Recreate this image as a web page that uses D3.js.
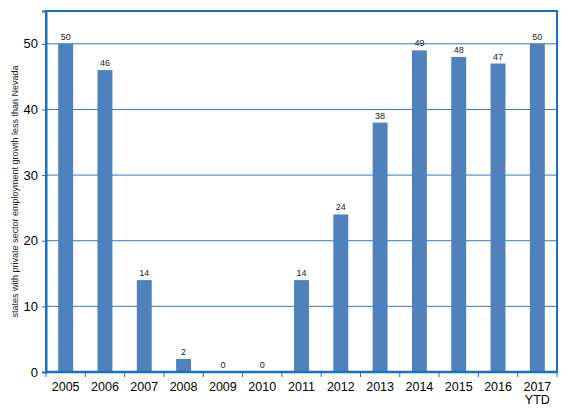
<!DOCTYPE html>
<html>
<head>
<meta charset="utf-8">
<script src="https://cdn.jsdelivr.net/npm/d3@7"></script>
<style>
  body { margin: 0; background: #fff; }
  text { font-family: Arial, "Liberation Sans", sans-serif; }
</style>
</head>
<body>
<div id="chart"></div>
<script>
// data
const years = ['2005', '2006', '2007', '2008', '2009', '2010', '2011', '2012', '2013', '2014', '2015', '2016', '2017\nYTD'];
const statesBelow = [50, 46, 14, 2, 0, 0, 14, 24, 38, 49, 48, 47, 50];
const yTicks = [0, 10, 20, 30, 40, 50];

const width = 568, height = 411;
const margin = { top: 11, right: 11, bottom: 39, left: 46 };

const svg = d3.select('#chart')
  .append('svg')
  .attr('width', width)
  .attr('height', height);

const x = d3.scaleBand()
  .domain(years)
  .range([margin.left, width - margin.right])
  .paddingInner(0.62)
  .paddingOuter(0.31);

const y = d3.scaleLinear()
  .domain([0, 55])
  .range([height - margin.bottom, margin.top]);

// gridlines
svg.append('g')
  .selectAll('line')
  .data(yTicks.filter(d => d > 0))
  .enter()
  .append('line')
  .attr('x1', margin.left)
  .attr('x2', width - margin.right)
  .attr('y1', d => y(d))
  .attr('y2', d => y(d))
  .attr('stroke', '#2a7bc9')
  .attr('stroke-width', 1);

// bars
svg.append('g')
  .selectAll('rect')
  .data(statesBelow)
  .enter()
  .append('rect')
  .attr('x', (d, i) => x(years[i]))
  .attr('y', d => y(d))
  .attr('width', x.bandwidth())
  .attr('height', d => y(0) - y(d))
  .attr('fill', '#4f81bd');

// value labels
svg.append('g')
  .selectAll('text')
  .data(statesBelow)
  .enter()
  .append('text')
  .attr('x', (d, i) => x(years[i]) + x.bandwidth() / 2)
  .attr('y', d => y(d) - 4)
  .attr('text-anchor', 'middle')
  .attr('font-size', 9)
  .attr('fill', '#222')
  .text(d => d);

// plot border
svg.append('rect')
  .attr('x', margin.left)
  .attr('y', margin.top)
  .attr('width', width - margin.left - margin.right)
  .attr('height', height - margin.top - margin.bottom)
  .attr('fill', 'none')
  .attr('stroke', '#1a6fc4')
  .attr('stroke-width', 2);

// y axis
const yAxis = svg.append('g')
  .attr('transform', `translate(${margin.left},0)`)
  .call(d3.axisLeft(y).tickValues(yTicks).tickSize(4).tickPadding(4));
yAxis.select('.domain').attr('stroke', '#1a6fc4').attr('stroke-width', 2);
yAxis.selectAll('.tick line').attr('stroke', '#1a6fc4');
yAxis.selectAll('.tick text').attr('font-size', 13).attr('fill', '#000');

// x axis: ticks sit on category boundaries
const xAxisG = svg.append('g')
  .attr('transform', `translate(0,${y(0)})`);
xAxisG.append('line')
  .attr('x1', margin.left)
  .attr('x2', width - margin.right)
  .attr('stroke', '#1a6fc4')
  .attr('stroke-width', 2.5);
const bounds = d3.range(years.length + 1).map(i => margin.left + i * x.step());
xAxisG.selectAll('.bt')
  .data(bounds)
  .enter()
  .append('line')
  .attr('x1', d => d)
  .attr('x2', d => d)
  .attr('y1', 0)
  .attr('y2', 5)
  .attr('stroke', '#1a6fc4');
const lbl = xAxisG.selectAll('.xl')
  .data(years)
  .enter()
  .append('text')
  .attr('x', d => x(d) + x.bandwidth() / 2)
  .attr('y', 19)
  .attr('text-anchor', 'middle')
  .attr('font-size', 12.5)
  .attr('fill', '#000');
lbl.each(function(d) {
  d.split('\n').forEach((part, i) => {
    d3.select(this).append('tspan')
      .attr('x', x(d) + x.bandwidth() / 2)
      .attr('dy', i === 0 ? 0 : 13)
      .text(part);
  });
});

// y axis title
svg.append('text')
  .attr('transform', `translate(18,${(margin.top + y(0)) / 2}) rotate(-90)`)
  .attr('text-anchor', 'middle')
  .attr('font-size', 9)
  .attr('fill', '#222')
  .text('states with private sector employment growth less than Nevada');
</script>
</body>
</html>
